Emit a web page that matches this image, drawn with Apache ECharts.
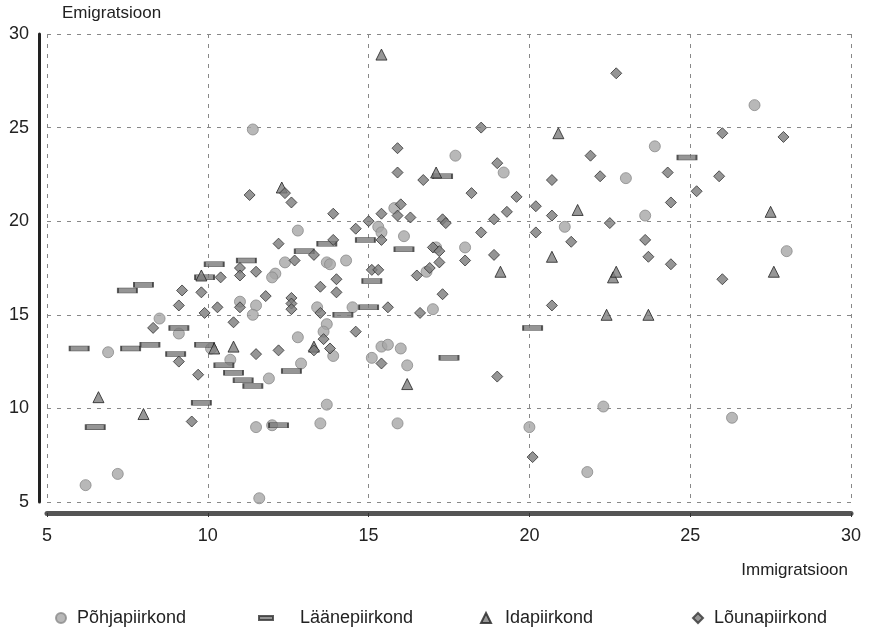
<!DOCTYPE html>
<html><head><meta charset="utf-8">
<script src="https://cdn.jsdelivr.net/npm/echarts@6/dist/echarts.min.js"></script>
<style>html,body{margin:0;padding:0;background:#fff}#c{width:870px;height:628px}</style>
</head><body><div id="c"></div>
<script>
const xTicks = [5, 10, 15, 20, 25, 30];
const yTicks = [5, 10, 15, 20, 25, 30];
const seriesNames = ['Põhjapiirkond', 'Läänepiirkond', 'Idapiirkond', 'Lõunapiirkond'];

const pohja = [[6.2,5.9],[6.9,13.0],[7.2,6.5],[8.5,14.8],[9.1,14.0],[11.4,24.9],[12.4,17.8],[13.7,17.8],[13.8,17.7],[14.3,17.9],[12.1,17.2],[12.0,17.0],[11.0,15.7],[11.5,15.5],[11.4,15.0],[13.4,15.4],[14.5,15.4],[13.7,14.5],[13.6,14.1],[12.8,13.8],[13.9,12.8],[15.4,13.3],[15.6,13.4],[15.1,12.7],[10.7,12.6],[12.9,12.4],[11.9,11.6],[13.7,10.2],[11.5,9.0],[12.0,9.1],[13.5,9.2],[11.6,5.2],[12.8,19.5],[15.3,19.7],[15.4,19.4],[17.7,23.5],[19.2,22.6],[15.8,20.7],[16.1,19.2],[17.1,18.6],[18.0,18.6],[16.8,17.3],[17.0,15.3],[16.0,13.2],[16.2,12.3],[15.9,9.2],[20.0,9.0],[23.9,24.0],[23.0,22.3],[23.6,20.3],[21.1,19.7],[22.3,10.1],[21.8,6.6],[27.0,26.2],[28.0,18.4],[26.3,9.5],[10.1,13.2]];
const laane = [[6.0,13.2],[6.5,9.0],[7.5,16.3],[8.0,16.6],[7.6,13.2],[8.2,13.4],[9.0,12.9],[9.1,14.3],[9.8,10.3],[9.9,13.4],[9.9,17.0],[10.2,17.7],[11.2,17.9],[10.5,12.3],[10.8,11.9],[11.1,11.5],[11.4,11.2],[12.6,12.0],[12.2,9.1],[13.0,18.4],[13.7,18.8],[14.9,19.0],[15.0,15.4],[14.2,15.0],[16.1,18.5],[17.3,22.4],[15.1,16.8],[17.5,12.7],[20.1,14.3],[24.9,23.4]];
const ida = [[15.4,28.9],[20.9,24.7],[12.3,21.8],[17.1,22.6],[21.5,20.6],[27.5,20.5],[20.7,18.1],[19.1,17.3],[22.6,17.0],[22.7,17.3],[27.6,17.3],[9.8,17.1],[22.4,15.0],[23.7,15.0],[13.3,13.3],[10.2,13.2],[10.8,13.3],[16.2,11.3],[6.6,10.6],[8.0,9.7]];
const louna = [[22.7,27.9],[18.5,25.0],[15.9,23.9],[26.0,24.7],[27.9,24.5],[19.0,23.1],[21.9,23.5],[15.9,22.6],[16.7,22.2],[20.7,22.2],[22.2,22.4],[24.3,22.6],[25.9,22.4],[18.2,21.5],[19.6,21.3],[25.2,21.6],[11.3,21.4],[12.4,21.5],[12.6,21.0],[24.4,21.0],[20.2,20.8],[19.3,20.5],[16.0,20.9],[15.4,20.4],[13.9,20.4],[15.0,20.0],[15.9,20.3],[16.3,20.2],[17.3,20.1],[17.4,19.9],[18.9,20.1],[20.7,20.3],[22.5,19.9],[14.6,19.6],[20.2,19.4],[18.5,19.4],[21.3,18.9],[23.6,19.0],[15.4,19.0],[13.9,19.0],[12.2,18.8],[17.0,18.6],[17.2,18.4],[18.9,18.2],[23.7,18.1],[13.3,18.2],[12.7,17.9],[18.0,17.9],[17.2,17.8],[24.4,17.7],[16.9,17.5],[11.0,17.5],[11.0,17.1],[11.5,17.3],[15.1,17.4],[15.3,17.4],[10.4,17.0],[16.5,17.1],[14.0,16.9],[26.0,16.9],[13.5,16.5],[9.2,16.3],[9.8,16.2],[14.0,16.2],[17.3,16.1],[11.8,16.0],[12.6,15.9],[12.6,15.6],[12.6,15.3],[9.1,15.5],[11.0,15.4],[10.3,15.4],[15.6,15.4],[20.7,15.5],[9.9,15.1],[13.5,15.1],[16.6,15.1],[8.3,14.3],[10.8,14.6],[14.6,14.1],[13.6,13.7],[13.8,13.2],[13.3,13.1],[12.2,13.1],[11.5,12.9],[9.1,12.5],[15.4,12.4],[9.7,11.8],[19.0,11.7],[9.5,9.3],[20.1,7.4]];

const FONT = '"Liberation Sans", Arial, sans-serif';
const chart = echarts.init(document.getElementById('c'), null, {renderer: 'canvas'});
const gridLine = {show: true, lineStyle: {type: [4, 6], color: '#888', width: 1}};

function legendFor(name, icon, left, w, h, pad) {
  return {
    data: [{name: name, icon: icon}], left: left, top: 604, itemWidth: w, itemHeight: h,
    selectedMode: false,
    textStyle: {fontFamily: FONT, fontSize: 18, color: '#222', padding: [0, 0, 0, pad]}
  };
}

chart.setOption({
  animation: false,
  backgroundColor: '#fff',
  grid: {left: 47, right: 19, top: 34, bottom: 126, containLabel: false},
  xAxis: {
    type: 'value', min: xTicks[0], max: xTicks[xTicks.length - 1], interval: 5,
    offset: 11,
    axisLine: {show: true, onZero: false, lineStyle: {color: '#555', width: 5}},
    axisTick: {show: true, length: 4, lineStyle: {color: '#333'}},
    axisLabel: {fontFamily: FONT, fontSize: 18, color: '#222', margin: 14},
    splitLine: gridLine
  },
  yAxis: {
    type: 'value', min: yTicks[0], max: yTicks[yTicks.length - 1], interval: 5,
    offset: 8,
    axisLine: {show: true, onZero: false, lineStyle: {color: '#222', width: 3}},
    axisTick: {show: false},
    axisLabel: {fontFamily: FONT, fontSize: 18, color: '#222', margin: 10},
    splitLine: gridLine
  },
  legend: [
    legendFor(seriesNames[0], 'circle', 50, 10, 10, 6),
    legendFor(seriesNames[1], 'rect', 253, 14, 4, 22),
    legendFor(seriesNames[2], 'triangle', 475, 10, 10, 9),
    legendFor(seriesNames[3], 'diamond', 687, 10, 10, 6)
  ],
  graphic: [
    {type: 'text', left: 62, top: 5, style: {text: 'Emigratsioon', font: '17px ' + FONT, fill: '#222'}},
    {type: 'text', right: 22, top: 562, style: {text: 'Immigratsioon', font: '17px ' + FONT, fill: '#222'}}
  ],
  series: [
    {name: seriesNames[0], type: 'scatter', data: pohja, symbol: 'circle', symbolSize: 11,
     itemStyle: {color: '#a6a6a6', borderColor: '#8a8a8a', borderWidth: 1}},
    {name: seriesNames[1], type: 'scatter', data: laane, symbol: 'rect', symbolSize: [19, 5],
     itemStyle: {color: '#7a7a7a', borderColor: '#333', borderWidth: 1}},
    {name: seriesNames[2], type: 'scatter', data: ida, symbol: 'triangle', symbolSize: 11,
     itemStyle: {color: '#7d7d7d', borderColor: '#222', borderWidth: 1}},
    {name: seriesNames[3], type: 'scatter', data: louna, symbol: 'diamond', symbolSize: 11,
     itemStyle: {color: '#7a7a7a', borderColor: '#333', borderWidth: 1}}
  ]
});
</script></body></html>
